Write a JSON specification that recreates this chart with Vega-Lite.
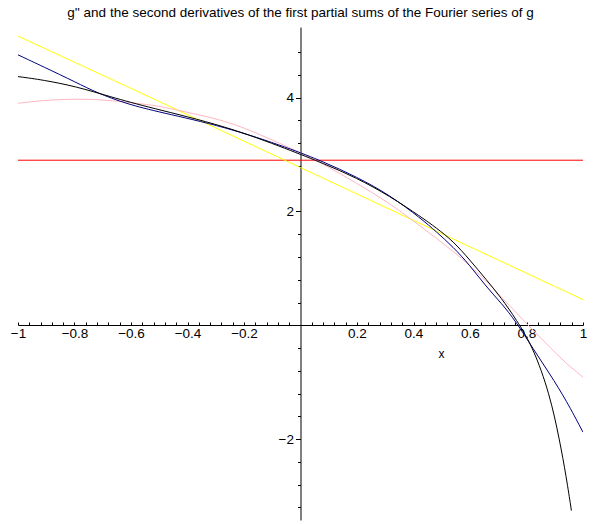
{
  "$schema": "https://vega.github.io/schema/vega-lite/v6.json",
  "width": 565,
  "height": 493,
  "autosize": {"type": "none"},
  "padding": {"left": 18, "top": 27, "right": 17, "bottom": 4},
  "background": "white",
  "config": {
    "view": {"stroke": null},
    "font": "Liberation Sans"
  },
  "title": {
    "text": "g'' and the second derivatives of the first partial sums of the Fourier series of g",
    "fontSize": 13.5,
    "fontWeight": "normal",
    "font": "Liberation Sans",
    "color": "black",
    "anchor": "middle",
    "baseline": "alphabetic",
    "offset": -3
  },
  "data": {
    "values": [
      {"s": "red", "x": -1, "y": 2.9},
      {"s": "red", "x": 1, "y": 2.9},
      {"s": "yellow", "x": -1, "y": 5.08},
      {"s": "yellow", "x": -0.498, "y": 3.929},
      {"s": "yellow", "x": 0, "y": 2.77},
      {"s": "yellow", "x": 0.5, "y": 1.61},
      {"s": "yellow", "x": 1, "y": 0.452},
      {"s": "pink", "x": -1, "y": 3.901},
      {"s": "pink", "x": -0.959, "y": 3.924},
      {"s": "pink", "x": -0.8995, "y": 3.954},
      {"s": "pink", "x": -0.823, "y": 3.972},
      {"s": "pink", "x": -0.74, "y": 3.972},
      {"s": "pink", "x": -0.675, "y": 3.947},
      {"s": "pink", "x": -0.629, "y": 3.929},
      {"s": "pink", "x": -0.534, "y": 3.871},
      {"s": "pink", "x": -0.498, "y": 3.848},
      {"s": "pink", "x": -0.357, "y": 3.695},
      {"s": "pink", "x": -0.268, "y": 3.59},
      {"s": "pink", "x": -0.18, "y": 3.431},
      {"s": "pink", "x": -0.038, "y": 3.12},
      {"s": "pink", "x": 0.08, "y": 2.84},
      {"s": "pink", "x": 0.198, "y": 2.5},
      {"s": "pink", "x": 0.316, "y": 2.141},
      {"s": "pink", "x": 0.3865, "y": 1.88},
      {"s": "pink", "x": 0.422, "y": 1.75},
      {"s": "pink", "x": 0.481, "y": 1.53},
      {"s": "pink", "x": 0.54, "y": 1.3},
      {"s": "pink", "x": 0.599, "y": 1.056},
      {"s": "pink", "x": 0.658, "y": 0.77},
      {"s": "pink", "x": 0.705, "y": 0.528},
      {"s": "pink", "x": 0.764, "y": 0.22},
      {"s": "pink", "x": 0.823, "y": -0.088},
      {"s": "pink", "x": 0.882, "y": -0.382},
      {"s": "pink", "x": 0.941, "y": -0.674},
      {"s": "pink", "x": 1, "y": -0.91},
      {"s": "blue", "x": -1, "y": 4.751},
      {"s": "blue", "x": -0.9115, "y": 4.545},
      {"s": "blue", "x": -0.793, "y": 4.264},
      {"s": "blue", "x": -0.7225, "y": 4.088},
      {"s": "blue", "x": -0.616, "y": 3.889},
      {"s": "blue", "x": -0.498, "y": 3.743},
      {"s": "blue", "x": -0.268, "y": 3.49},
      {"s": "blue", "x": -0.038, "y": 3.109},
      {"s": "blue", "x": 0.08, "y": 2.874},
      {"s": "blue", "x": 0.198, "y": 2.61},
      {"s": "blue", "x": 0.316, "y": 2.288},
      {"s": "blue", "x": 0.428, "y": 1.87},
      {"s": "blue", "x": 0.481, "y": 1.642},
      {"s": "blue", "x": 0.54, "y": 1.378},
      {"s": "blue", "x": 0.599, "y": 1.056},
      {"s": "blue", "x": 0.658, "y": 0.674},
      {"s": "blue", "x": 0.711, "y": 0.39},
      {"s": "blue", "x": 0.764, "y": 0.058},
      {"s": "blue", "x": 0.823, "y": -0.41},
      {"s": "blue", "x": 0.882, "y": -0.85},
      {"s": "blue", "x": 0.941, "y": -1.32},
      {"s": "blue", "x": 1, "y": -1.878},
      {"s": "black", "x": -1, "y": 4.369},
      {"s": "black", "x": -0.9115, "y": 4.311},
      {"s": "black", "x": -0.793, "y": 4.193},
      {"s": "black", "x": -0.675, "y": 4.017},
      {"s": "black", "x": -0.534, "y": 3.824},
      {"s": "black", "x": -0.268, "y": 3.507},
      {"s": "black", "x": -0.038, "y": 3.079},
      {"s": "black", "x": 0.08, "y": 2.845},
      {"s": "black", "x": 0.198, "y": 2.592},
      {"s": "black", "x": 0.316, "y": 2.27},
      {"s": "black", "x": 0.428, "y": 1.9},
      {"s": "black", "x": 0.481, "y": 1.71},
      {"s": "black", "x": 0.54, "y": 1.48},
      {"s": "black", "x": 0.599, "y": 1.15},
      {"s": "black", "x": 0.658, "y": 0.8},
      {"s": "black", "x": 0.711, "y": 0.48},
      {"s": "black", "x": 0.764, "y": 0.1},
      {"s": "black", "x": 0.823, "y": -0.382},
      {"s": "black", "x": 0.882, "y": -1.202},
      {"s": "black", "x": 0.9175, "y": -2.024},
      {"s": "black", "x": 0.941, "y": -2.669},
      {"s": "black", "x": 0.959, "y": -3.255}
    ]
  },
  "mark": {"type": "line", "strokeWidth": 1, "interpolate": "basis", "clip": true},
  "encoding": {
    "x": {
      "field": "x",
      "type": "quantitative",
      "scale": {"domain": [-1, 1], "nice": false, "zero": false},
      "axis": {
        "orient": "bottom",
        "offset": -195,
        "grid": false,
        "domainColor": "black",
        "domainWidth": 1,
        "tickColor": "black",
        "tickSize": -3,
        "labelPadding": 4,
        "values": [-1,-0.96,-0.92,-0.88,-0.84,-0.8,-0.76,-0.72,-0.68,-0.64,-0.6,-0.56,-0.52,-0.48,-0.44,-0.4,-0.36,-0.32,-0.28,-0.24,-0.2,-0.16,-0.12,-0.08,-0.04,0.04,0.08,0.12,0.16,0.2,0.24,0.28,0.32,0.36,0.4,0.44,0.48,0.52,0.56,0.6,0.64,0.68,0.72,0.76,0.8,0.84,0.88,0.92,0.96,1],
        "labelExpr": "abs(round(datum.value*5) - datum.value*5) < 0.001 ? (datum.value == 1 || datum.value == -1 ? format(datum.value, 'd') : format(datum.value, '.1f')) : ''",
        "labelFont": "Liberation Sans",
        "labelFontSize": 13.5,
        "labelColor": "black",
        "labelFlush": false,
        "labelOverlap": false,
        "title": "x",
        "titleFont": "Liberation Sans",
        "titleFontSize": 12,
        "titleFontWeight": "normal",
        "titleColor": "black",
        "titleX": 423,
        "titleY": 28,
        "titleBaseline": "middle"
      }
    },
    "y": {
      "field": "y",
      "type": "quantitative",
      "scale": {"domain": [-3.42, 5.24], "nice": false, "zero": false},
      "axis": {
        "orient": "left",
        "offset": -282.5,
        "grid": false,
        "domainColor": "black",
        "domainWidth": 1,
        "tickColor": "black",
        "tickSize": {"condition": {"test": "abs(round(datum.value/2) - datum.value/2) < 0.001", "value": 5}, "value": 3},
        "labelPadding": 2,
        "values": [-3.2,-2.8,-2.4,-2,-1.6,-1.2,-0.8,-0.4,0.4,0.8,1.2,1.6,2,2.4,2.8,3.2,3.6,4,4.4,4.8],
        "labelExpr": "abs(round(datum.value/2) - datum.value/2) < 0.001 ? format(datum.value, 'd') : ''",
        "labelFont": "Liberation Sans",
        "labelFontSize": 13.5,
        "labelColor": "black",
        "labelFlush": false,
        "labelOverlap": false,
        "title": null
      }
    },
    "color": {
      "field": "s",
      "type": "nominal",
      "scale": {"domain": ["red", "yellow", "pink", "blue", "black"], "range": ["#FF0000", "#FFFF00", "#FFB6C1", "#000080", "#000000"]},
      "legend": null
    }
  }
}
